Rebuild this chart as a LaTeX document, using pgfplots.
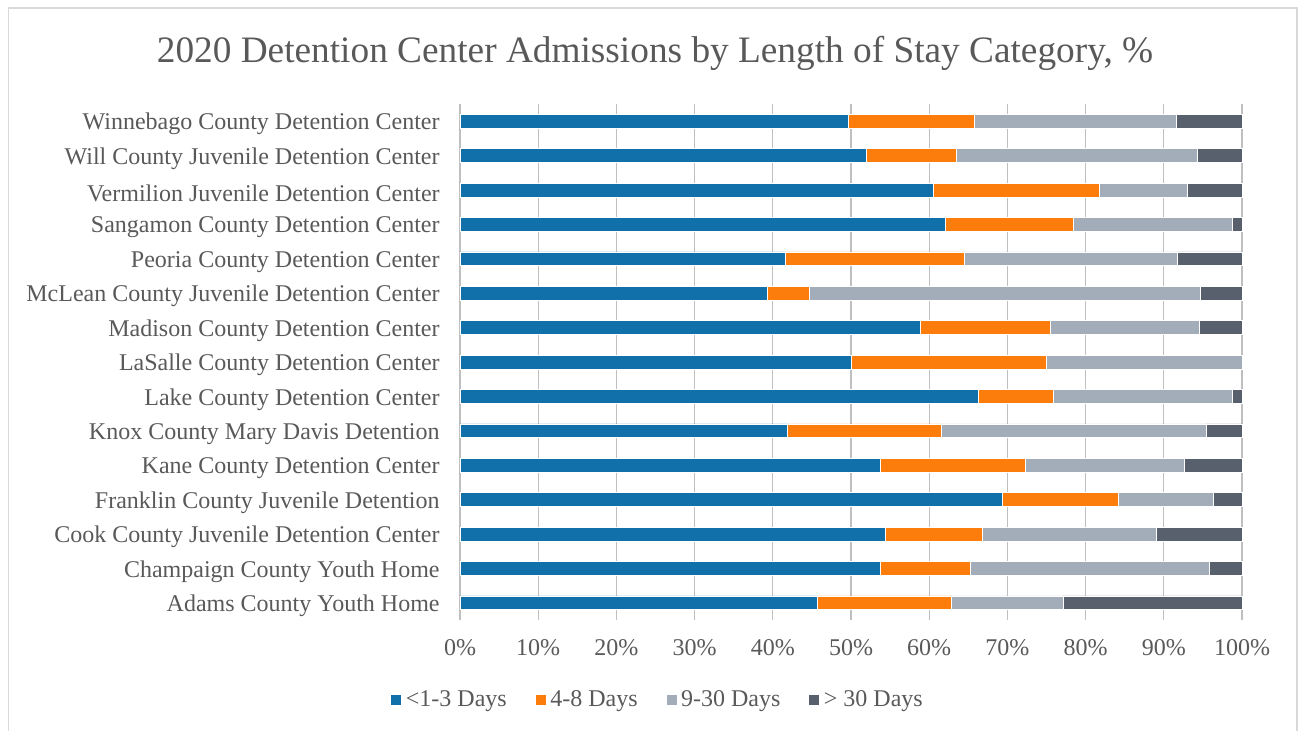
\documentclass[border=0pt]{standalone}
\usepackage{pgfplots}
\pgfplotsset{compat=1.18}
\usepackage{pgfplotstable}
\usepackage{fontspec}
\setmainfont{Liberation Serif}
\definecolor{cBlue}{HTML}{1170AA}
\definecolor{cOrange}{HTML}{FC7D0B}
\definecolor{cGray}{HTML}{A3ACB9}
\definecolor{cDark}{HTML}{57606C}
\definecolor{txt}{HTML}{595959}
\definecolor{grid}{HTML}{D9D9D9}
\pgfplotstableread{
idx a b c d
0 45.7 17.1 14.3 22.9
1 53.7 11.6 30.5 4.2
2 54.4 12.4 22.2 11.0
3 69.4 14.8 12.1 3.7
4 53.8 18.5 20.3 7.4
5 41.9 19.7 33.8 4.6
6 66.3 9.6 22.9 1.2
7 50.0 25.0 25.0 0.0
8 58.9 16.6 19.0 5.5
9 39.3 5.4 50.0 5.3
10 41.6 22.9 27.2 8.3
11 62.1 16.3 20.4 1.2
12 60.5 21.2 11.3 7.0
13 52.0 11.5 30.8 5.7
14 49.7 16.0 25.9 8.4
}\datatable
\begin{document}
\begin{tikzpicture}
\useasboundingbox (0,0) rectangle (649.5pt,365pt);
\draw[grid, line width=0.6pt] (4.25pt,-5pt) rectangle (648.5pt,361pt);
\node[anchor=base, font=\fontsize{18.65}{22}\selectfont, text=txt] at (327.5pt,333.5pt) {2020 Detention Center Admissions by Length of Stay Category, \%};
\begin{axis}[
  at={(230pt,55pt)}, anchor=south west,
  scale only axis, width=391pt, height=258pt,
  xbar stacked,
  bar width=0.4,
  xmin=0, xmax=100, ymin=-0.5, ymax=14.5,
  xtick={0,10,...,100},
  xticklabel={\pgfmathprintnumber{\tick}\%},
  ytick={0,...,14},
  yticklabels={Adams County Youth Home, Champaign County Youth Home, Cook County Juvenile Detention Center, Franklin County Juvenile Detention, Kane County Detention Center, Knox County Mary Davis Detention, Lake County Detention Center, LaSalle County Detention Center, Madison County Detention Center, McLean County Juvenile Detention Center, Peoria County Detention Center, Sangamon County Detention Center, Vermilion Juvenile Detention Center, Will County Juvenile Detention Center, Winnebago County Detention Center},
  major tick length=0pt,
  axis line style={draw=none},
  xmajorgrids, major grid style={grid, line width=0.6pt},
  ymajorgrids=false,
  /pgf/number format/assume math mode=true,
  tick label style={font=\fontsize{12}{14}\selectfont, text=txt},
  yticklabel style={anchor=east, inner sep=0pt, xshift=-10pt, yshift=-1.5pt},
  xticklabel style={anchor=base, inner sep=0pt, yshift=-17.5pt},
  legend style={at={(0.254,-0.155)}, anchor=center, draw=none, fill=none,
    font=\fontsize{12}{14}\selectfont, text=txt, legend columns=4,
    /tikz/every even column/.append style={column sep=12pt}},
  legend cell align=left,
  legend image code/.code={\fill[#1] (0pt,-2.75pt) rectangle (5.5pt,2.75pt);},
  clip=false,
]
\addplot[fill=cBlue, draw=white, line width=0.25pt] table[x=a, y=idx] {\datatable};
\addplot[fill=cOrange, draw=white, line width=0.25pt] table[x=b, y=idx] {\datatable};
\addplot[fill=cGray, draw=white, line width=0.25pt] table[x=c, y=idx] {\datatable};
\addplot[fill=cDark, draw=white, line width=0.25pt] table[x=d, y=idx] {\datatable};
\legend{<1-3 Days, 4-8 Days, 9-30 Days, > 30 Days}
\end{axis}
\end{tikzpicture}
\end{document}
